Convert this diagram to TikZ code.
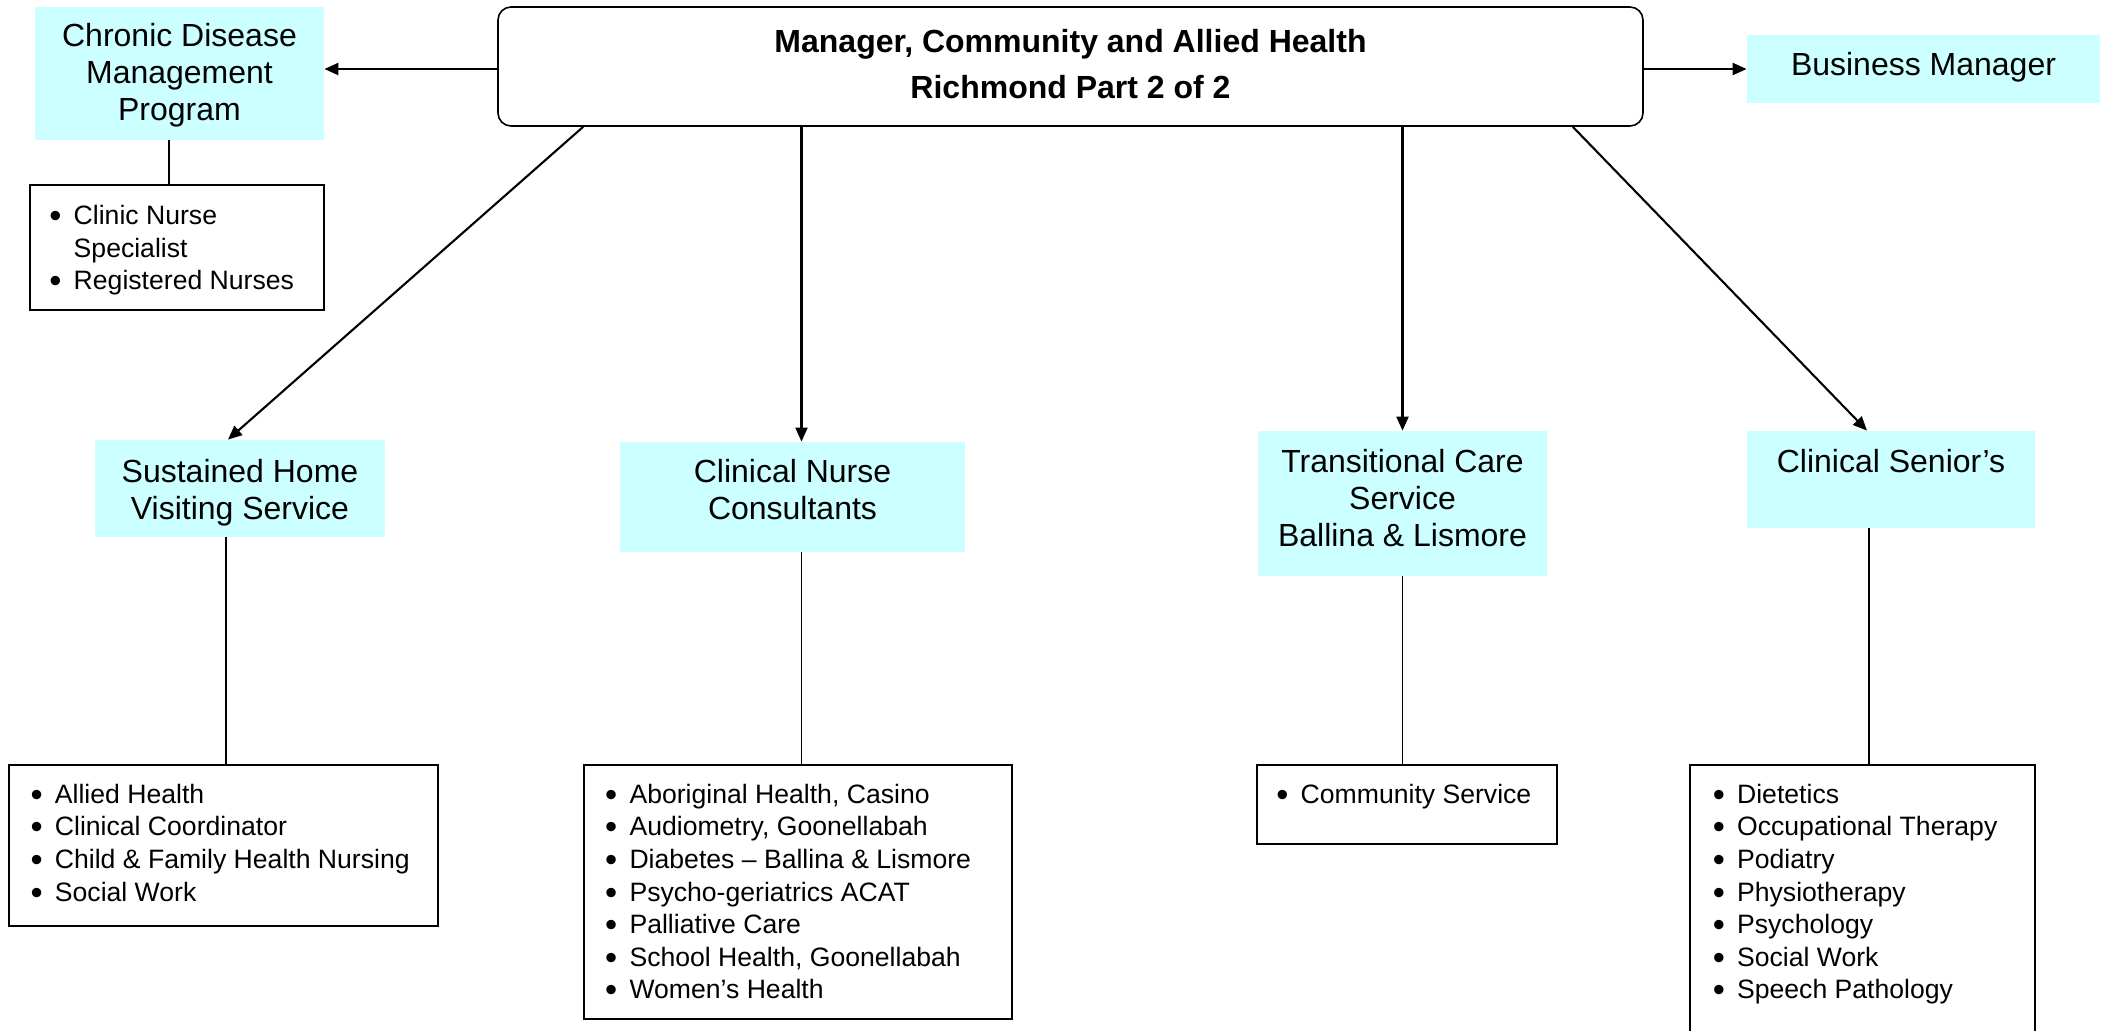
\documentclass[tikz,border=0pt]{standalone}
\usepackage{fontspec}
\setmainfont{Liberation Sans}
\usetikzlibrary{arrows.meta,fit}
\definecolor{lcyan}{RGB}{204,255,255}
\newcommand\bdot{\makebox[4.66pt][c]{\raisebox{-1.5pt}{\scalebox{1.3}{\textbullet}}}}
\newcommand\blist[1]{\begin{tabular}{@{}l@{\hspace{6.8pt}}l@{}}#1\end{tabular}}
\begin{document}
\begin{tikzpicture}[x=0.5pt,y=-0.5pt,
  cbox/.style={fill=lcyan, draw=none, inner sep=0pt},
  lbox/.style={draw=black, line width=0.9pt, fill=white, inner sep=0pt},
  mbox/.style={draw=black, line width=0.8pt, rounded corners=6.5pt, fill=white, inner sep=0pt},
  head/.style={anchor=north, align=center, inner sep=0pt, font=\fontsize{16}{18.5}\selectfont},
  ttl/.style={anchor=north, align=center, inner sep=0pt, font=\fontsize{16}{22.8}\selectfont\bfseries},
  lst/.style={anchor=north west, inner sep=0pt, font=\fontsize{13.3}{16.3}\selectfont},
  arr/.style={line width=1.05pt, -{Triangle[length=7pt,width=6pt]}},
  con/.style={line width=0.85pt}]
\fill[white] (0,0) rectangle (2105,1030);
\clip (0,0) rectangle (2105,1030);

% boxes
\node[mbox, fit={(498,7)(1643,126)}] (mgr) {};
\node[cbox, fit={(35,7)(324,140)}] (cdmp) {};
\node[lbox, fit={(30,185)(324,310)}] (cdmpl) {};
\node[cbox, fit={(1747,35)(2100,103)}] (bm) {};
\node[cbox, fit={(95,440)(385,537)}] (sh) {};
\node[cbox, fit={(620,442)(965,552)}] (cnc) {};
\node[cbox, fit={(1258,431)(1547,576)}] (tc) {};
\node[cbox, fit={(1747,431)(2035,528)}] (cs) {};
\node[lbox, fit={(9,765)(438,926)}] (shl) {};
\node[lbox, fit={(584,765)(1012,1019)}] (cncl) {};
\node[lbox, fit={(1257,765)(1557,844)}] (tcl) {};
\node[lbox, fit={(1690,765)(2035,1060)}] (csl) {};

% texts
\node[ttl] (mgrt) at (1070.5,29) {Manager, Community and Allied Health\\Richmond Part 2 of 2};
\node[head] (cdmpt) at (179.5,23.4) {Chronic Disease\\Management\\Program};
\node[head] (bmt) at (1923.5,51.6) {Business Manager};
\node[head] (sht) at (240,458.4) {Sustained Home\\Visiting Service};
\node[head] (cnct) at (792.5,458.4) {Clinical Nurse\\Consultants};
\node[head] (tct) at (1402.5,449) {Transitional Care\\Service\\Ballina \& Lismore};
\node[head] (cst) at (1891,449) {Clinical Senior’s};

\node[lst] (cdmplt) at (50.4,201.5) {\blist{\bdot & Clinic Nurse\\ & Specialist\\ \bdot & Registered Nurses}};
\node[lst] (shlt) at (31.6,780.1) {\blist{\bdot & Allied Health\\ \bdot & Clinical Coordinator\\ \bdot & Child \& Family Health Nursing\\ \bdot & Social Work}};
\node[lst] (cnclt) at (606.2,780.1) {\blist{\bdot & Aboriginal Health, Casino\\ \bdot & Audiometry, Goonellabah\\ \bdot & Diabetes – Ballina \& Lismore\\ \bdot & Psycho-geriatrics ACAT\\ \bdot & Palliative Care\\ \bdot & School Health, Goonellabah\\ \bdot & Women’s Health}};
\node[lst] (tclt) at (1277.4,780.1) {\blist{\bdot & Community Service}};
\node[lst] (cslt) at (1713.8,780.1) {\blist{\bdot & Dietetics\\ \bdot & Occupational Therapy\\ \bdot & Podiatry\\ \bdot & Physiotherapy\\ \bdot & Psychology\\ \bdot & Social Work\\ \bdot & Speech Pathology}};

% connectors
\coordinate (cdmpx) at ([xshift=-5.25pt]cdmp.south);
\coordinate (shx) at ([xshift=-7pt]sh.south);
\coordinate (cncx) at ([xshift=4.5pt]cnc.south);
\coordinate (csx) at ([xshift=-11pt]cs.south);

\draw[arr] (mgr.west |- bm.west) -- (cdmp.east |- bm.west);
\draw[arr] (mgr.east |- bm.west) -- (bm.west);
\draw[arr] ([xshift=43pt]mgr.south west) -- ([xshift=-6pt]sh.north);
\draw[arr] (mgr.south -| cncx) -- (cncx |- cnc.north);
\draw[arr] (mgr.south -| tc.north) -- (tc.north);
\draw[arr] ([xshift=-35.5pt]mgr.south east) -- ([xshift=-12pt]cs.north);

\draw[con] (cdmpx) -- (cdmpx |- cdmpl.north);
\draw[con] (shx) -- (shx |- shl.north);
\draw[con] (cncx) -- (cncx |- cncl.north);
\draw[con] (tc.south) -- (tcl.north -| tc.south);
\draw[con] (csx) -- (csx |- csl.north);
\end{tikzpicture}
\end{document}
